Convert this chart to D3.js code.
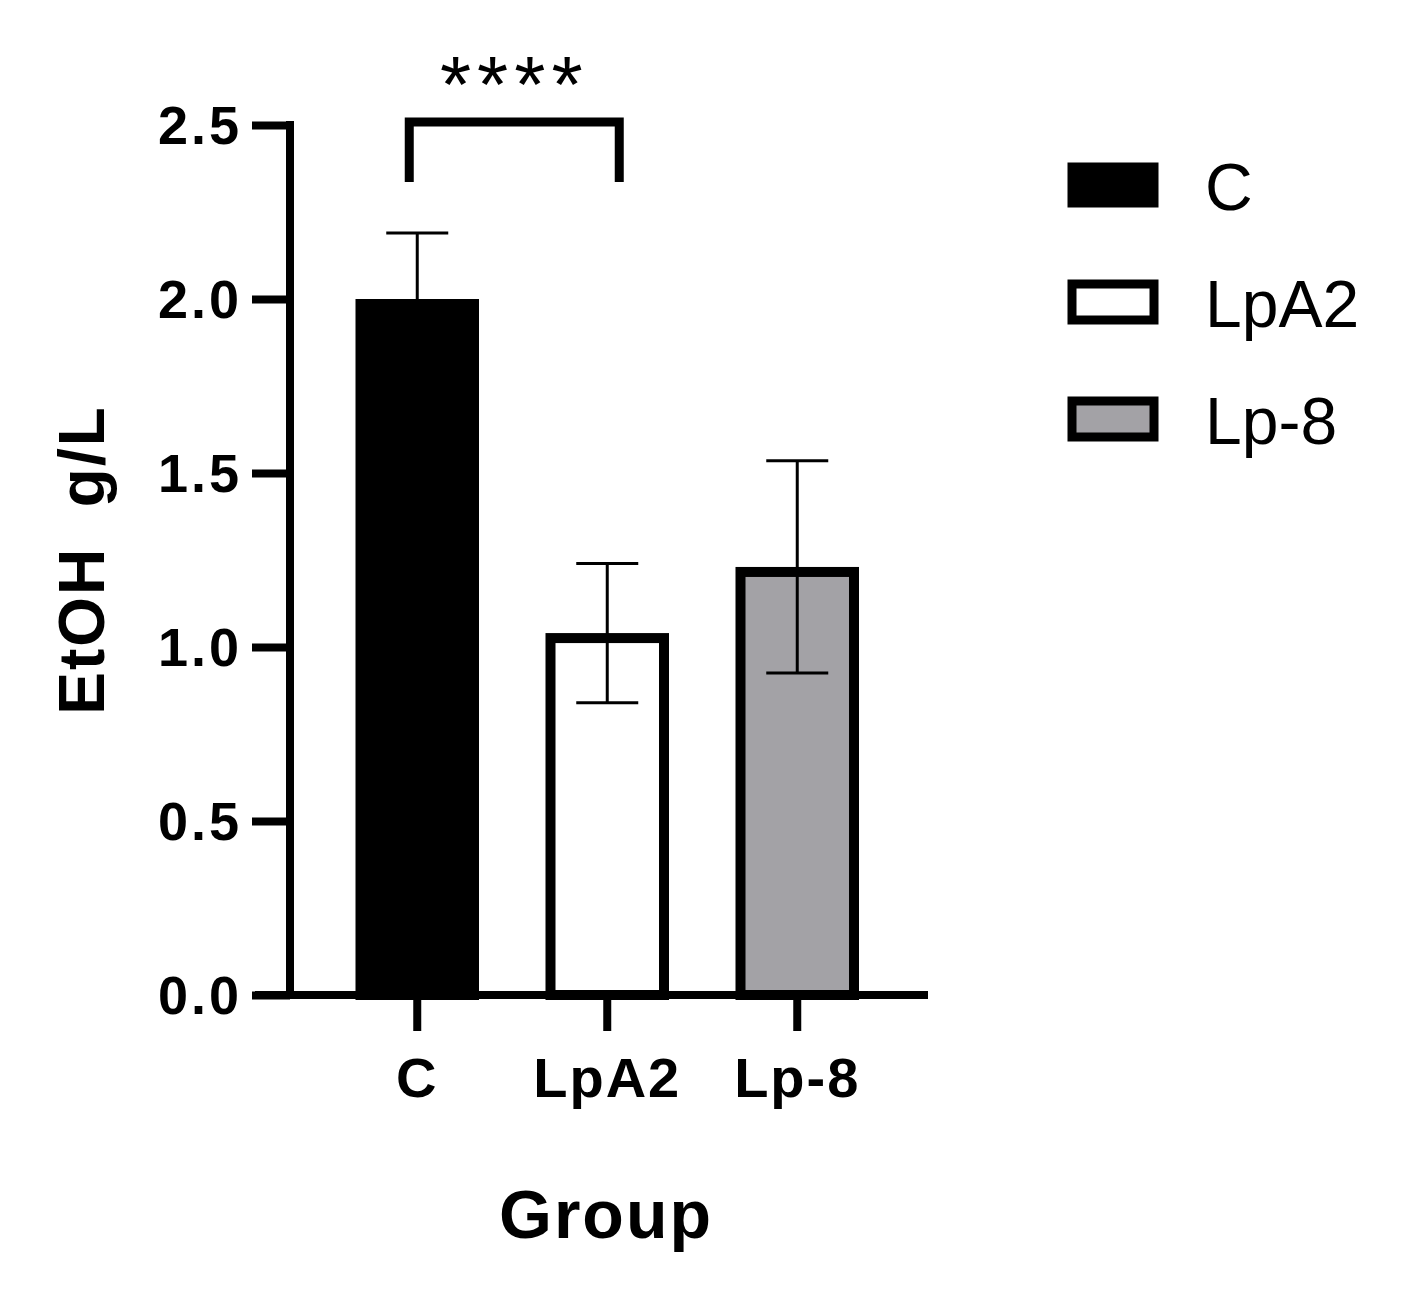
<!DOCTYPE html>
<html><head><meta charset="utf-8">
<script src="https://cdn.jsdelivr.net/npm/d3@7"></script>
<style>body{margin:0;background:#fff}text{font-family:"Liberation Sans",Arial,sans-serif}</style>
</head><body>
<svg width="1420" height="1303"></svg>
<script>
const groups = ["C", "LpA2", "Lp-8"];
const means = [2.0, 1.04, 1.23];
const errs = [0.19, 0.2, 0.305];
const fills = ["#000000", "#ffffff", "#a3a2a6"];
const yTicks = [0, 0.5, 1.0, 1.5, 2.0, 2.5];

const svg = d3.select("svg");
const y = d3.scaleLinear().domain([0, 2.5]).range([995, 125]);
const x = d3.scaleBand().domain(groups).range([317.5, 897]).paddingInner(0.35).paddingOuter(0.2);
const sw = 10;

// bars
svg.selectAll("rect.bar").data(groups).enter().append("rect")
  .attr("x", d => x(d) + sw / 2).attr("width", x.bandwidth() - sw)
  .attr("y", (d, i) => y(means[i]) + sw / 2).attr("height", (d, i) => y(0) - y(means[i]) - sw / 2)
  .attr("fill", (d, i) => fills[i]).attr("stroke", "#000").attr("stroke-width", sw);

// error bars
groups.forEach((g, i) => {
  const cx = x(g) + x.bandwidth() / 2;
  const lo = i === 0 ? means[i] : means[i] - errs[i];
  const hi = means[i] + errs[i];
  svg.append("line").attr("x1", cx).attr("x2", cx).attr("y1", y(lo)).attr("y2", y(hi)).attr("stroke", "#000").attr("stroke-width", 3);
  svg.append("line").attr("x1", cx - 31).attr("x2", cx + 31).attr("y1", y(hi)).attr("y2", y(hi)).attr("stroke", "#000").attr("stroke-width", 3);
  if (i > 0) svg.append("line").attr("x1", cx - 31).attr("x2", cx + 31).attr("y1", y(lo)).attr("y2", y(lo)).attr("stroke", "#000").attr("stroke-width", 3);
});

// y axis
const ya = svg.append("g").attr("transform", "translate(290,0)")
  .call(d3.axisLeft(y).tickValues(yTicks).tickFormat(d3.format(".1f")).tickSize(38).tickPadding(10));
ya.select(".domain").attr("stroke-width", 8).attr("d", "M0,121V999");
ya.selectAll(".tick line").attr("stroke-width", 8);
ya.selectAll(".tick text").attr("font-size", 54).attr("font-weight", "bold").attr("fill", "#000")
  .attr("dy", "0.35em").attr("letter-spacing", 3);

// x axis
const xa = svg.append("g").attr("transform", "translate(0,995)")
  .call(d3.axisBottom(x).tickSize(36).tickPadding(26));
xa.select(".domain").attr("stroke-width", 8).attr("d", "M255,0H928");
xa.selectAll(".tick line").attr("stroke-width", 8);
xa.selectAll(".tick text").attr("font-size", 56).attr("font-weight", "bold").attr("fill", "#000").attr("letter-spacing", 2);

// titles
svg.append("text").attr("transform", "translate(82,560) rotate(-90)").attr("text-anchor", "middle")
  .attr("font-size", 64).attr("font-weight", "bold").attr("dy", "0.35em").attr("xml:space", "preserve")
  .attr("letter-spacing", 2).text("EtOH  g/L");
svg.append("text").attr("x", 606).attr("y", 1238).attr("text-anchor", "middle")
  .attr("font-size", 68).attr("font-weight", "bold").attr("letter-spacing", 2).text("Group");

// significance bracket
const bx1 = x("C") + x.bandwidth() / 2 - 8, bx2 = x("LpA2") + x.bandwidth() / 2 + 12;
svg.append("path").attr("d", `M${bx1},182V122H${bx2}V182`).attr("fill", "none").attr("stroke", "#000").attr("stroke-width", 9);
svg.append("text").attr("x", (bx1 + bx2) / 2).attr("y", 112).attr("text-anchor", "middle")
  .attr("font-size", 80).attr("letter-spacing", 6).text("****");

// legend
groups.forEach((g, i) => {
  const ly = 167 + i * 117;
  svg.append("rect").attr("x", 1072).attr("y", ly).attr("width", 82).attr("height", 36)
    .attr("fill", fills[i]).attr("stroke", "#000").attr("stroke-width", 9);
  svg.append("text").attr("x", 1205).attr("y", ly + 20).attr("dy", "0.35em").attr("font-size", 66).text(g);
});
</script>
</body></html>
